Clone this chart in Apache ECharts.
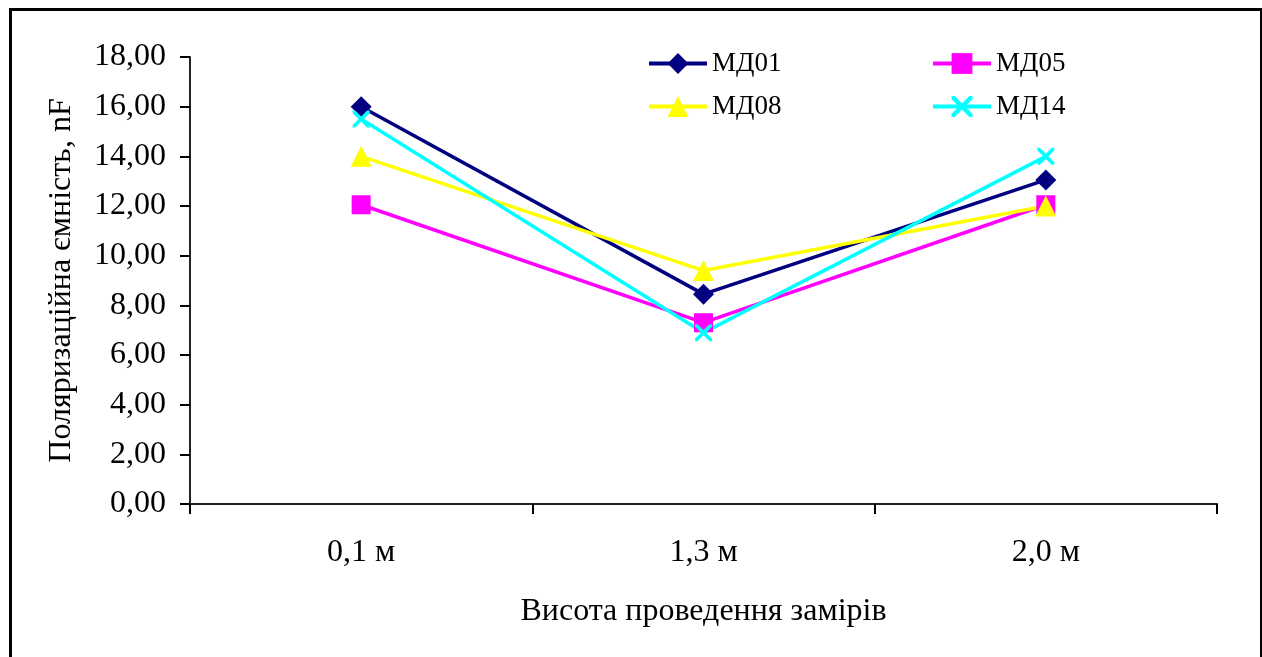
<!DOCTYPE html>
<html>
<head>
<meta charset="utf-8">
<script src="https://cdn.jsdelivr.net/npm/echarts@6/dist/echarts.min.js"></script>
<style>
html, body { margin: 0; padding: 0; background: #fff; }
#main { width: 1262px; height: 657px; }
</style>
</head>
<body>
<div id="main"></div>
<script>
var dom = document.getElementById('main');
var myChart = echarts.init(dom);

// data
var categories = ['0,1 м', '1,3 м', '2,0 м'];
var md01 = [16.0, 8.45, 13.05];
var md05 = [12.05, 7.3, 12.05];
var md08 = [14.0, 9.4, 12.0];
var md14 = [15.5, 6.9, 14.0];

var crossPath = 'path://M0,0 L3,0 L10,7 L17,0 L20,0 L20,3 L13,10 L20,17 L20,20 L17,20 L10,13 L3,20 L0,20 L0,17 L7,10 L0,3 Z';
var font = 'Liberation Serif';

function makeSeries(name, data, color, symbol, size) {
	return {
		name: name,
		type: 'line',
		data: data,
		symbol: symbol,
		symbolSize: size,
		showAllSymbol: true,
		lineStyle: { color: color, width: 3.5 },
		itemStyle: { color: color },
		emphasis: { disabled: true },
		animation: false
	};
}

function makeLegend(left, names) {
	return {
		left: left,
		top: 45,
		orient: 'vertical',
		itemWidth: 58,
		itemHeight: 26,
		itemGap: 16,
		lineStyle: { width: 4 },
		textStyle: { fontFamily: font, fontSize: 27, color: '#000' },
		data: names
	};
}

var option = {
	backgroundColor: '#fff',
	textStyle: { fontFamily: font },
	grid: { left: 190, top: 57, right: 45, bottom: 153, containLabel: false },
	legend: [
		makeLegend(642, ['МД01', 'МД08']),
		makeLegend(926, ['МД05', 'МД14'])
	],
	xAxis: {
		type: 'category',
		data: categories,
		boundaryGap: true,
		axisLine: { lineStyle: { color: '#222', width: 2 } },
		axisTick: { show: true, length: 10, lineStyle: { color: '#000', width: 2 } },
		axisLabel: { fontFamily: font, fontSize: 32, color: '#000', margin: 33 },
		name: 'Висота проведення замірів',
		nameLocation: 'middle',
		nameGap: 92,
		nameTextStyle: { fontFamily: font, fontSize: 32, color: '#000' },
		splitLine: { show: false }
	},
	yAxis: {
		type: 'value',
		min: 0,
		max: 18,
		interval: 2,
		axisLine: { show: true, lineStyle: { color: '#222', width: 2 } },
		axisTick: { show: true, length: 10, lineStyle: { color: '#000', width: 2 } },
		axisLabel: {
			fontFamily: font, fontSize: 32, color: '#000', margin: 24,
			formatter: function (v) { return v.toFixed(2).replace('.', ','); }
		},
		splitLine: { show: false },
		name: 'Поляризаційна ємність, nF',
		nameLocation: 'middle',
		nameRotate: 90,
		nameGap: 112,
		nameTextStyle: { fontFamily: font, fontSize: 32, color: '#000' }
	},
	graphic: [{
		type: 'rect',
		left: 8,
		top: 7,
		shape: { width: 1251, height: 660 },
		style: { fill: null, stroke: '#000', lineWidth: 3 },
		silent: true
	}],
	series: [
		makeSeries('МД01', md01, '#000080', 'diamond', 21),
		makeSeries('МД05', md05, '#FF00FF', 'rect', 19),
		makeSeries('МД08', md08, '#FFFF00', 'triangle', 21),
		makeSeries('МД14', md14, '#00FFFF', crossPath, 17)
	]
};

myChart.setOption(option);
</script>
</body>
</html>
